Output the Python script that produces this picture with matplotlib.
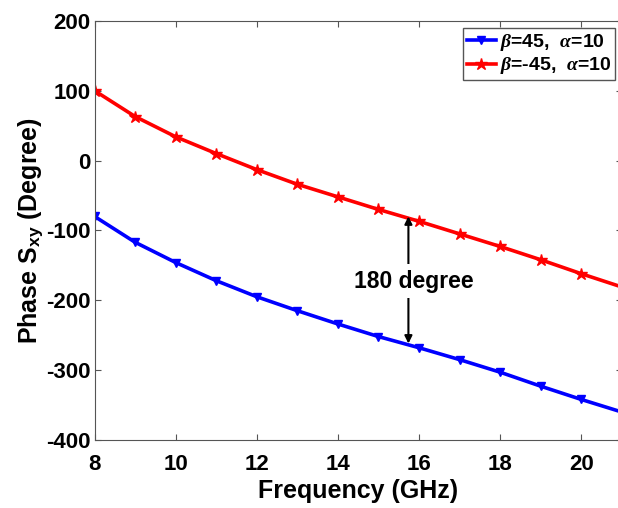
import matplotlib
matplotlib.use("Agg")
import matplotlib.pyplot as plt
import numpy as np

plt.rcParams["font.family"] = ["Liberation Sans", "DejaVu Sans"]
plt.rcParams["font.weight"] = "bold"
plt.rcParams["axes.unicode_minus"] = False
plt.rcParams["mathtext.fontset"] = "custom"
plt.rcParams["mathtext.it"] = "Liberation Serif:italic"
plt.rcParams["mathtext.rm"] = "Liberation Sans:bold"
plt.rcParams["mathtext.bf"] = "Liberation Sans:bold"

# frequency points (GHz)
freq = [8, 9, 10, 11, 12, 13, 14, 15, 16, 17, 18, 19, 20, 21]
# phase S_xy (degree)
phase_b45 = [-80, -117, -146, -172, -195, -215, -234, -252, -268, -285, -303, -323, -342, -360]
phase_bm45 = [100, 63, 34, 10, -13, -34, -52, -70, -87, -105, -123, -142, -162, -181]
labels = [r"$\beta$=45,  $\alpha$=10", r"$\beta$=-45,  $\alpha$=10"]

fig = plt.figure(figsize=(6.18, 5.08), dpi=100)
ax = fig.add_axes([0.153, 0.134, 0.853, 0.825])

ax.plot(freq, phase_b45, color="#0000ff", lw=2.6, marker="v", ms=6,
        markevery=list(range(13)), label=labels[0])
ax.plot(freq, phase_bm45, color="#ff0000", lw=2.6, marker="*", ms=9,
        markevery=list(range(13)), label=labels[1])

ax.set_xlim(8, 21)
ax.set_ylim(-400, 200)
ax.set_xticks(np.arange(8, 21, 2))
ax.set_yticks(np.arange(-400, 201, 100))
ax.tick_params(direction="in", top=True, right=True, labelsize=16, length=4,
               color="#555555")
ax.tick_params(axis="x", pad=10)
ax.tick_params(axis="y", pad=3)
for lab in ax.get_xticklabels() + ax.get_yticklabels():
    lab.set_fontweight("bold")
for s in ax.spines.values():
    s.set_color("#555555")

ax.set_xlabel("Frequency (GHz)", fontsize=18, fontweight="bold", labelpad=3)
ax.set_ylabel(r"Phase S$_\mathbf{xy}$ (Degree)", fontsize=18, fontweight="bold", labelpad=0)

# 180 degree arrow
ax.annotate("", xy=(15.74, -80), xytext=(15.74, -262),
            arrowprops=dict(arrowstyle="<|-|>", color="black", lw=1.5,
                            mutation_scale=11, shrinkA=0, shrinkB=0))
ax.text(15.88, -173, "180 degree", ha="center", va="center", fontsize=16.5,
        fontweight="bold", bbox=dict(facecolor="white", edgecolor="none", pad=4))

leg = ax.legend(loc="upper right", fontsize=14, handlelength=1.5, borderpad=0.2,
                labelspacing=0.15, handletextpad=0.2, borderaxespad=0.35,
                fancybox=False, framealpha=1)
leg.get_frame().set_edgecolor("#555555")
for t in leg.get_texts():
    t.set_fontweight("bold")

fig.savefig("out.png", dpi=100)
